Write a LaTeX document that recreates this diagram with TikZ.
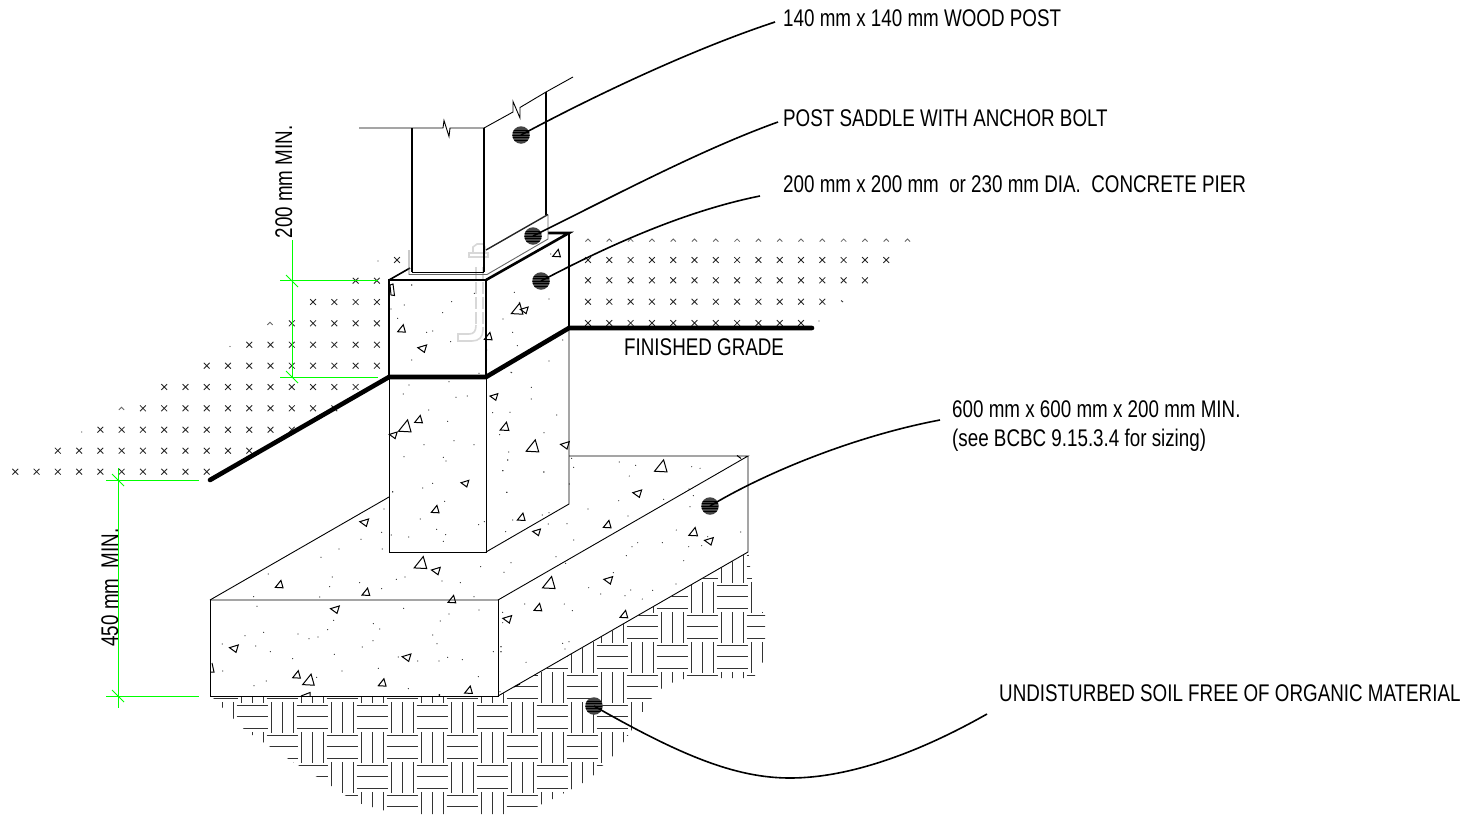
\documentclass[tikz,border=0pt]{standalone}
\usepackage{fontspec}
\newfontfamily\labfont[FakeStretch=0.78]{Liberation Sans}
\definecolor{gline}{HTML}{00FF00}
\definecolor{dotgray}{HTML}{444444}
\definecolor{boltgray}{HTML}{D8D8D8}
\tikzset{
  lab/.style={font=\labfont\fontsize{24.1}{24.1}\selectfont,inner sep=0pt,anchor=base west},
  labrot/.style={font=\labfont\fontsize{24.1}{24.1}\selectfont,inner sep=0pt,anchor=base,rotate=90},
  xmark/.style={line width=.85pt,black!85},
  hat/.style={line width=.9pt,black!80},
  tri/.style={line width=1pt,black,line join=miter},
  thin line/.style={line width=.9pt,black},
  med line/.style={line width=1.6pt,black},
  heavy line/.style={line width=2.6pt,black},
  grade/.style={line width=4.6pt,black,line cap=round,line join=round},
  dim/.style={line width=1pt,gline},
  leader/.style={line width=1.6pt,black},
  leaderdot/.style={circle,fill=dotgray,minimum size=17.5pt,inner sep=0pt,path picture={
    \foreach \o in {-5,-2.5,0,2.5,5}
      \draw[black,line width=.4pt] ([yshift=\o pt]path picture bounding box.west)--([yshift=\o pt]path picture bounding box.east);}},
}
\newcommand\xm[2]{\draw[xmark] ({#1-2.9},{#2-2.9})--({#1+2.9},{#2+2.9}) ({#1-2.9},{#2+2.9})--({#1+2.9},{#2-2.9});}
\newcommand\cm[2]{\draw[xmark,black!60] ({#1-2.6},{#2+1.6})--({#1},{#2-1})--({#1+2.6},{#2+1.6});}
\newcommand\dotz[3]{\foreach \a/\b in {#3}{\fill[black!80] ({#1+\a/3},{#2+\b/3}) circle (.6);}}
\newcommand\tra[3]{\foreach \a/\b/\s in {#3}{\draw[tri] ({#1+\a/3-\s},{#2+\b/3+.6*\s})--({#1+\a/3+.4*\s},{#2+\b/3-1.15*\s})--({#1+\a/3+.93*\s},{#2+\b/3+.7*\s})--cycle;}}
\newcommand\trb[3]{\foreach \a/\b/\s in {#3}{\draw[tri] ({#1+\a/3-\s},{#2+\b/3-.15*\s})--({#1+\a/3+.95*\s},{#2+\b/3-.75*\s})--({#1+\a/3+.45*\s},{#2+\b/3+.9*\s})--cycle;}}
\begin{document}
\begin{tikzpicture}[x=1pt,y=-1pt]
\useasboundingbox (0,0) rectangle (1477,814);
\fill[white] (0,0) rectangle (1477,814);
% earth crosses, left
\foreach \y/\p/\q in {471.7/0/9,450.7/2/11,429.7/4/13,408.3/6/15,387/7/16,365.7/9/17,344.7/11/17,323.3/13/17,302/14/17,280.7/16/17}{
  \foreach \i in {\p,...,\q}{\pgfmathsetmacro\xx{15.3+21.27*\i}\xm{\xx}{\y}}}
\xm{397}{260}
\cm{121.5}{408.3}\cm{270}{323.3}
\fill[black!70] (81.7,432) circle (.6) (230,346.5) circle (.6) (378,261) circle (.6);
% earth crosses, right
\foreach \y/\q in {260/14,280.3/13,301.7/11,323/10}{
  \foreach \i in {0,...,\q}{\pgfmathsetmacro\xx{588+21.3*\i}\xm{\xx}{\y}}}
\foreach \i in {0,...,15}{\pgfmathsetmacro\xx{588+21.3*\i}\cm{\xx}{240}}
\draw[xmark] (841,300.5)--(843,302);
\fill[black!70] (819,321) circle (.6);
% undisturbed soil
\begin{scope}
\clip (212,696.5)--(498,696.5)--(748,552.5)--(752,580)--(753,612)--(765,612)--(765,660)--(755,672)--(755,678)--(720,678)--(690,677)--(665,685)--(660,690)--(650,700)--(645,708)--(635,725)--(625,740)--(613,756)--(600,768)--(595,774)--(585,782)--(570,790)--(555,798)--(542,804)--(528,812)--(520,814)--(396,814)--(355,802)--(330,785)--(290,760)--(245,730)--(215,700)--cycle;
\foreach \j/\o in {-5/30,-4/0,-3/30,-2/0,-1/30,0/0,1/30,2/0,3/30}{
  \foreach \k in {-1,...,9}{
    \pgfmathsetmacro\xa{236.7+60*\k+\o}
    \pgfmathsetmacro\ya{702+30*\j}
    \foreach \d in {3.7,14.8,26.3}{\draw[hat] ({\xa},{\ya+\d})--({\xa+31.3},{\ya+\d});}
    \foreach \d in {35,46,56.6}{\draw[hat] ({\xa+\d},{\ya})--({\xa+\d},{\ya+30.7});}
  }}
\end{scope}
% anchor bolt ghost
\begin{scope}[line width=1.6pt,boltgray]
\draw (469,257)--(488,257)--(488,253)--(469,253)--cycle;
\draw (473,253)--(473,247)--(477,244)--(483,244)--(485,247)--(485,253);
\draw[dash pattern=on 12pt off 3pt] (476,267)--(476,325);
\draw[dash pattern=on 12pt off 3pt] (483,267)--(483,330);
\draw (476,325)..controls (476,331) and (474,334)..(469,334)--(458,334)--(458,341)--(472,341)..controls (479,341) and (483,337)..(483,330);
\end{scope}
% concrete stipple: upper pier
\tra{385}{275}{50/163/4,310/186/4,397/105/6}
\trb{385}{275}{112/220/4.5,418/105/4}
\draw[tri] (390,285)--(393,284)--(394.5,295.5)--(391,295)--cycle;
\dotz{385}{275}{80/30,200/80,173/113,58/90,38/130,18/102,125/172,143/168,197/200,80/255,268/55,282/295,388/52,492/72,403/82,354/132,383/172,397/212,533/195,492/258,378/292,305/225}
\tra{340}{60}{650/582/4}
\dotz{340}{60}{632/582,215/675}
% lower pier
\tra{380}{370}{75/172/6.5,116/150/4,374/172/4.5,458/232/6.5,166/420/4,424/443/4}
\trb{380}{370}{40/195/4,342/80/4,555/225/4.5,255/340/4,470/486/4}
\dotz{380}{370}{87/45,207/35,70/72,228/82,262/78,146/120,203/154,338/128,390/127,454/52,454/87,530/135,395/8,492/188,359/194,222/212,132/224,282/224,72/260,190/262,198/273,386/246,383/270,369/302,492/306,158/340,128/354,38/366,568/342,381/367,194/394,121/447,313/455,296/464,170/478,197/494,34/495,86/501,190/514,12/417,5/487,7/537}
% footing, right part
\tra{500}{450}{483/52/6.5,322/225/4,147/402/6.5,114/474/4,372/495/4,580/248/4.5}
\trb{500}{450}{412/130/4.5,325/390/4.5,22/507/4.5,627/273/4.5}
\draw[tri] (737,455.5)--(741,458.5);
\dotz{500}{450}{215/25,221/52,358/36,407/46,575/50,600/55,388/78,356/152,491/148,264/177,384/198,580/137,570/170,567/117,8/62,131/66,23/30,20/127,145/222,201/221,221/270,38/210,127/195,147/188,17/245,529/240,722/246,413/278,396/290,487/278,566/290,605/287,623/260,379/317,168/320,197/340,33/338,12/367,551/332,340/368,266/413,302/432,392/420,375/437,427/447,458/421,528/402,193/462,217/482,74/462,8/487,188/580,207/575,195/597,3/590,3/605,78/637,745/316}
% footing, left part of top
\tra{210}{490}{208/285/4,468/308/4,726/330/4,632/222/6.5}
\trb{210}{490}{463/97/4.5,678/242/4.5}
\dotz{210}{490}{175/252,333/202,387/177,453/148,367/261,359/290,449/278,515/296,559/268,585/261,696/273,751/278,812/230,792/320,329/321,131/320,548/5}
% footing, front
\tra{200}{540}{290/406/4,326/423/6,547/430/4,806/452/4}
\trb{200}{540}{405/208/4.5,102/325/4.5,620/352/4.5}
\draw[tri] (210,672)--(214,672)--(212,663);
\draw[tri] (301,696)--(310,692.5)--(310,696);
\draw[tri] (514,687)--(520,684);
\dotz{200}{540}{171/199,611/205,837/210,747/222,721/243,401/241,520/251,539/267,383/269,191/277,135/287,294/282,327/296,354/291,519/302,698/285,711/311,167/318,67/312,211/335,487/321,403/343,278/356,880/335,903/320,903/335,595/351,653/363,717/363,743/352,787/359,535/385,68/393,426/393,835/410,350/412,199/423,162/437,625/446,908/248,900/455}
\fill[black] (439.3,695) circle (1);
% footing outline
\draw[thin line] (210,600)--(498,600)--(748,456)--(569,456);
\draw[thin line] (210,600)--(389,497);
\draw[thin line] (210,600)--(210,696)--(498,696)--(498,600);
\draw[thin line] (498,696)--(748,552)--(748,456);
% lower pier outline
\draw[thin line] (389,377)--(389,552)--(486,552)--(486,377);
\draw[thin line] (486,552)--(569,504)--(569,328);
% upper pier
\draw[heavy line] (389,377)--(389,280)--(486,280)--(486,377);
\draw[med line] (389,280)--(410,268);
\draw[heavy line] (486,280)--(569,233)--(548,233);
\draw[med line] (569,233)--(569,328);
% post and saddle
\draw[thin line] (359,128)--(443,128)--(444,120.5)--(449,136.5)--(450,128)--(484,128);
\draw[thin line] (484,128)--(513,112)--(513,101.5)--(520,118)--(520,107.5)--(546,92)--(573,77);
\draw[line width=1.9pt] (412,128)--(412,272);
\draw[line width=1.9pt] (484,128)--(484,272);
\draw[line width=1.9pt] (546,92)--(546,215);
\draw[thin line] (412,272.3)--(484,272.3);
\draw[thin line,black!60] (409,250)--(409,274.5)--(487,274.5)--(548,239)--(548,215);
\draw[line width=1.4pt,black!85] (486,250)--(548,214.5);
% grade line
\draw[grade] (210,480)--(389,377)--(486,377)--(569,328)--(812,328);
% dimensions
\coordinate (a1) at (292,240);\coordinate (a2) at (292,377);
\draw[dim] (a1)--(a2);
\draw[dim] (280,280.7)--(378,280.7);
\draw[dim] (280,377)--(378,377);
\draw[dim] (286,275)--(298,287);
\draw[dim] (286,371)--(298,383);
\coordinate (b1) at (118,468);\coordinate (b2) at (118,708);
\draw[dim] (b1)--(b2);
\draw[dim] (106,480)--(199,480);
\draw[dim] (106,696)--(199,696);
\draw[dim] (112,474)--(124,486);
\draw[dim] (112,690)--(124,702);
\node[labrot] (dimtop) at (292,182) {200 mm MIN.};
\node[labrot] (dimlow) at (118,587.5) {450 mm~ MIN.};
% labels
\node[lab] (t1) at (783,26) {140 mm x 140 mm WOOD POST};
\node[lab] (t2) at (783,126) {POST SADDLE WITH ANCHOR BOLT};
\node[lab] (t3) at (783,192) {200 mm x 200 mm~ or 230 mm DIA.~ CONCRETE PIER};
\node[lab] (t4) at (624,355) {FINISHED GRADE};
\node[lab] (t5) at (952,417) {600 mm x 600 mm x 200 mm MIN.};
\node[lab] (t5b) at (952,446) {(see BCBC 9.15.3.4 for sizing)};
\node[lab] (t6) at (999,701) {UNDISTURBED SOIL FREE OF ORGANIC MATERIAL};
% leaders
\node[leaderdot] (d1) at (521,135) {};
\node[leaderdot] (d2) at (533,236) {};
\node[leaderdot] (d3) at (541,281) {};
\node[leaderdot] (d4) at (710,506) {};
\node[leaderdot] (d5) at (594,706) {};
\coordinate (e1) at (775,22);\coordinate (e2) at (778,122);\coordinate (e3) at (760,196);\coordinate (e4) at (940,420);\coordinate (e5) at (987,714);
\draw[leader] (d1.center)..controls (590,98) and (690,50)..(e1);
\draw[leader] (d2.center)..controls (610,198) and (700,150)..(e2);
\draw[leader] (d3.center)..controls (600,250) and (680,212)..(e3);
\draw[leader] (d4.center)..controls (770,470) and (860,435)..(e4);
\draw[leader] (d5.center)..controls (680,755) and (735,778)..(790,778)..controls (850,778) and (920,752)..(e5);
\end{tikzpicture}
\end{document}
